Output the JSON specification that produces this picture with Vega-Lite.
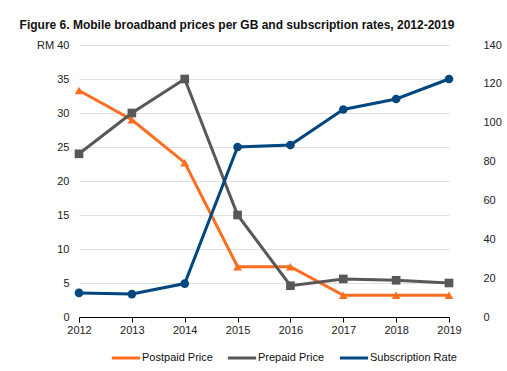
{
  "$schema": "https://vega.github.io/schema/vega-lite/v6.json",
  "width": 396,
  "height": 272,
  "padding": {"left": 19, "top": 19, "right": 5, "bottom": 5},
  "config": {
    "font": "Liberation Sans",
    "view": {"stroke": null},
    "axis": {"labelFont": "Liberation Sans", "labelFontSize": 11, "labelColor": "#222222"}
  },
  "title": {
    "text": "Figure 6. Mobile broadband prices per GB and subscription rates, 2012-2019",
    "anchor": "start",
    "frame": "bounds",
    "fontSize": 12,
    "fontWeight": "bold",
    "color": "#111111",
    "font": "Liberation Sans",
    "offset": 7,
    "dx": -17
  },
  "data": {
    "values": [
      {"year": "2012", "series": "Postpaid Price", "value": 33.3},
      {"year": "2013", "series": "Postpaid Price", "value": 29.0},
      {"year": "2014", "series": "Postpaid Price", "value": 22.7},
      {"year": "2015", "series": "Postpaid Price", "value": 7.4},
      {"year": "2016", "series": "Postpaid Price", "value": 7.4},
      {"year": "2017", "series": "Postpaid Price", "value": 3.2},
      {"year": "2018", "series": "Postpaid Price", "value": 3.2},
      {"year": "2019", "series": "Postpaid Price", "value": 3.2},
      {"year": "2012", "series": "Prepaid Price", "value": 24.0},
      {"year": "2013", "series": "Prepaid Price", "value": 30.0},
      {"year": "2014", "series": "Prepaid Price", "value": 35.0},
      {"year": "2015", "series": "Prepaid Price", "value": 15.0},
      {"year": "2016", "series": "Prepaid Price", "value": 4.6},
      {"year": "2017", "series": "Prepaid Price", "value": 5.6},
      {"year": "2018", "series": "Prepaid Price", "value": 5.4},
      {"year": "2019", "series": "Prepaid Price", "value": 5.0},
      {"year": "2012", "series": "Subscription Rate", "value": 12.4},
      {"year": "2013", "series": "Subscription Rate", "value": 11.8},
      {"year": "2014", "series": "Subscription Rate", "value": 17.2},
      {"year": "2015", "series": "Subscription Rate", "value": 87.5},
      {"year": "2016", "series": "Subscription Rate", "value": 88.5},
      {"year": "2017", "series": "Subscription Rate", "value": 106.8},
      {"year": "2018", "series": "Subscription Rate", "value": 112.2},
      {"year": "2019", "series": "Subscription Rate", "value": 122.5}
    ]
  },
  "encoding": {
    "x": {
      "field": "year",
      "type": "ordinal",
      "scale": {"type": "point", "padding": 0, "range": [0, 370]},
      "axis": {
        "title": null,
        "labelAngle": 0,
        "domainColor": "#000000",
        "tickColor": "#000000",
        "tickSize": 5,
        "grid": false
      }
    },
    "color": {
      "field": "series",
      "type": "nominal",
      "scale": {
        "domain": ["Postpaid Price", "Prepaid Price", "Subscription Rate"],
        "range": ["#ff6d1f", "#585858", "#00467f"]
      },
      "legend": {
        "title": null,
        "orient": "none",
        "legendX": 31,
        "legendY": 297,
        "direction": "horizontal",
        "symbolType": "stroke",
        "symbolStrokeWidth": 3,
        "symbolSize": 800,
        "labelFontSize": 11,
        "labelColor": "#111111",
        "labelOffset": 0,
        "columnPadding": 8
      }
    }
  },
  "layer": [
    {
      "transform": [{"filter": "datum.series !== 'Subscription Rate'"}],
      "encoding": {
        "y": {
          "field": "value",
          "type": "quantitative",
          "scale": {"domain": [0, 40]},
          "axis": {
            "title": null,
            "values": [0, 5, 10, 15, 20, 25, 30, 35, 40],
            "labelExpr": "datum.value == 40 ? 'RM 40' : datum.label",
            "domain": false,
            "ticks": false,
            "grid": true,
            "gridColor": "#e0e0e0",
            "labelPadding": 10
          }
        }
      },
      "layer": [
        {"mark": {"type": "line", "strokeWidth": 3}},
        {
          "mark": {"type": "point", "filled": true, "size": 75, "opacity": 1},
          "encoding": {
            "shape": {
              "field": "series",
              "type": "nominal",
              "scale": {"domain": ["Postpaid Price", "Prepaid Price"], "range": ["triangle-up", "square"]},
              "legend": null
            }
          }
        }
      ]
    },
    {
      "transform": [{"filter": "datum.series === 'Subscription Rate'"}],
      "encoding": {
        "y": {
          "field": "value",
          "type": "quantitative",
          "scale": {"domain": [0, 140]},
          "axis": {
            "title": null,
            "orient": "right",
            "values": [0, 20, 40, 60, 80, 100, 120, 140],
            "domain": false,
            "ticks": false,
            "grid": false,
            "labelPadding": 8
          }
        }
      },
      "layer": [
        {"mark": {"type": "line", "strokeWidth": 3}},
        {"mark": {"type": "point", "filled": true, "size": 75, "shape": "circle", "opacity": 1}}
      ]
    }
  ],
  "resolve": {"scale": {"y": "independent"}}
}
